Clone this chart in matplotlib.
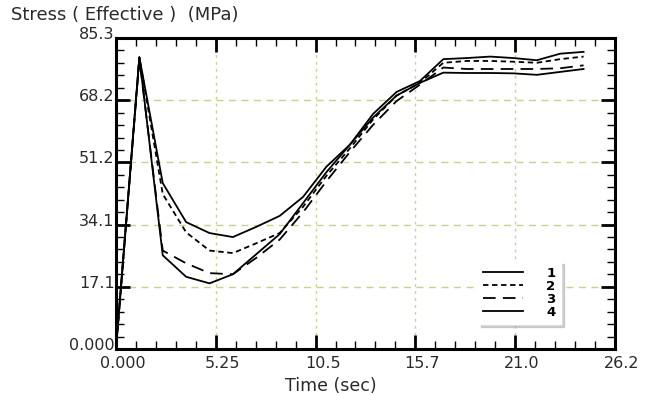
import matplotlib.pyplot as plt
from matplotlib.ticker import AutoMinorLocator
from matplotlib.transforms import ScaledTranslation

plt.rcParams['font.family'] = ['DejaVu Sans']

# time samples (sec)
t = [0.0, 1.23, 2.46, 3.69, 4.92, 6.15, 7.38, 8.61, 9.84, 11.07, 12.30,
     13.53, 14.76, 15.99, 17.22, 18.45, 19.68, 20.91, 22.14, 23.37, 24.60]

# effective stress (MPa) for the 4 curves
s1 = [0.0, 80.0, 45.5, 34.8, 31.8, 30.7, 33.5, 36.5, 41.7, 50.0, 56.0,
      64.5, 70.5, 73.5, 79.5, 79.8, 80.2, 79.8, 79.2, 81.0, 81.5]
s2 = [0.0, 80.0, 42.5, 32.0, 27.0, 26.3, 29.0, 31.8, 39.0, 47.5, 55.0,
      63.0, 69.5, 73.0, 78.5, 79.0, 79.0, 78.8, 78.5, 79.5, 80.2]
s3 = [0.0, 79.5, 27.0, 23.5, 20.8, 20.5, 25.0, 30.0, 37.5, 46.0, 54.0,
      61.5, 68.0, 72.5, 77.2, 76.8, 76.8, 76.8, 76.8, 77.0, 77.8]
s4 = [0.0, 80.0, 25.7, 19.8, 18.0, 20.5, 26.0, 31.5, 40.0, 48.5, 56.0,
      63.5, 69.5, 73.0, 75.8, 75.7, 75.7, 75.6, 75.2, 76.0, 76.8]

xticks = [0.0, 5.25, 10.5, 15.75, 21.0, 26.25]
xlabels = ['0.000', '5.25', '10.5', '15.7', '21.0', '26.2']
yticks = [0.0, 17.06, 34.12, 51.18, 68.24, 85.3]
ylabels = ['0.000', '17.1', '34.1', '51.2', '68.2', '85.3']

grid_col = '#c9d18e'
txt_col = '#2a2a2a'

fig = plt.figure(figsize=(6.48, 3.95), dpi=100)
ax = fig.add_axes([0.179, 0.1165, 0.770, 0.7873])

ax.plot(t, s1, color='black', lw=1.3, ls='-', label='1')
ax.plot(t, s2, color='black', lw=1.3, ls=(0, (3, 2)), label='2')
ax.plot(t, s3, color='black', lw=1.3, ls=(0, (7, 4)), label='3')
ax.plot(t, s4, color='black', lw=1.3, ls='-', label='4')

ax.set_xlim(0, 26.25)
ax.set_ylim(0, 85.3)
ax.set_xticks(xticks)
ax.set_xticklabels(xlabels)
ax.set_yticks(yticks)
ax.set_yticklabels(ylabels)
ax.xaxis.set_minor_locator(AutoMinorLocator(5))
ax.yaxis.set_minor_locator(AutoMinorLocator(5))

# grid lines on inner majors only
for x in xticks[1:-1]:
    ax.axvline(x, color=grid_col, lw=1, ls=(0, (2, 3)), zorder=0)
for y in yticks[1:-1]:
    ax.axhline(y, color=grid_col, lw=1, ls=(0, (5, 4)), zorder=0)

for sp in ax.spines.values():
    sp.set_linewidth(2.2)
ax.tick_params(which='both', direction='in', top=True, right=True,
               colors='black', labelcolor=txt_col, labelsize=11.5)
ax.tick_params(which='major', length=10, width=2)
ax.tick_params(which='minor', length=6, width=1)
ax.tick_params(axis='x', which='major', pad=5)
ax.tick_params(axis='y', which='major', pad=1)

# labels in the original sit a bit right / a bit up of their ticks
for lab in ax.get_xticklabels():
    lab.set_transform(lab.get_transform() + ScaledTranslation(0.07, 0, fig.dpi_scale_trans))
for lab in ax.get_yticklabels():
    lab.set_transform(lab.get_transform() + ScaledTranslation(0, 0.05, fig.dpi_scale_trans))

ax.set_xlabel('Time (sec)', fontsize=12.5, color=txt_col, labelpad=1)
ax.xaxis.set_label_coords(0.43, -0.09)
fig.text(0.017, 0.962, 'Stress ( Effective )  (MPa)', fontsize=13,
         color=txt_col, va='center', ha='left')

leg = ax.legend(loc='lower left', bbox_to_anchor=(0.725, 0.08),
                frameon=True, fancybox=False, shadow={'color': '0.65'},
                edgecolor='white', facecolor='white', framealpha=1,
                handlelength=3.0, labelspacing=0.0, borderpad=0.4,
                handletextpad=1.8, borderaxespad=0,
                prop={'weight': 'bold', 'size': 9.5})

fig.savefig('out.png', dpi=100)
